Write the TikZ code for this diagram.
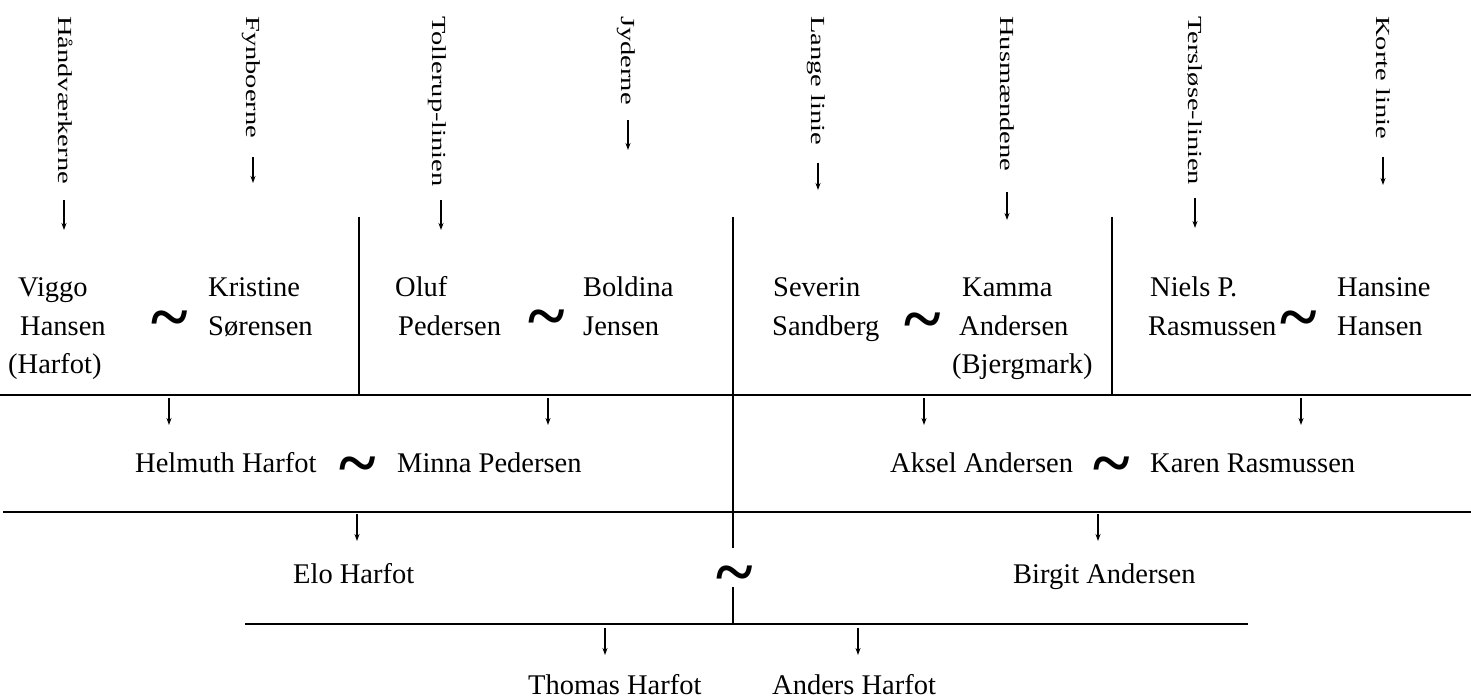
\documentclass[tikz,border=0pt]{standalone}
\usepackage{fontspec}
\usepackage{graphicx}
\setmainfont{Liberation Serif}
\usetikzlibrary{arrows.meta}
\newcommand\vtxt[1]{\scalebox{1}[0.7]{#1}}
\begin{document}
\begin{tikzpicture}[x=1pt,y=-1pt,
  nm/.style={anchor=base west, inner sep=0pt, font=\fontsize{28.5}{34}\selectfont},
  vlab/.style={anchor=base west, rotate=-90, inner sep=0pt, font=\fontsize{28.5}{34}\selectfont},
  tl/.style={anchor=base, inner sep=0pt, font=\fontsize{70}{70}\selectfont\bfseries},
  ln/.style={line width=1.7pt},
  arr/.style={line width=1.2pt, -{Stealth[length=7pt,width=5pt]}}]
\useasboundingbox (0,0) rectangle (1471,700);

% vertical family-line labels
\node[vlab] (l1) at (58,16) {\vtxt{Håndværkerne}};
\node[vlab] (l2) at (246,16) {\vtxt{Fynboerne}};
\node[vlab] (l3) at (432,16) {\vtxt{Tollerup-linien}};
\node[vlab] (l4) at (621,16) {\vtxt{Jyderne}};
\node[vlab] (l5) at (811,16) {\vtxt{Lange linie}};
\node[vlab] (l6) at (1000,16) {\vtxt{Husmændene}};
\node[vlab] (l7) at (1188,16) {\vtxt{Tersløse-linien}};
\node[vlab] (l8) at (1376,16) {\vtxt{Korte linie}};
\coordinate (a1s) at (64,200);  \coordinate (a1e) at (64,230);
\coordinate (a2s) at (253,157); \coordinate (a2e) at (253,183);
\coordinate (a3s) at (441,200); \coordinate (a3e) at (441,230);
\coordinate (a4s) at (628,120); \coordinate (a4e) at (628,150);
\coordinate (a5s) at (818,163); \coordinate (a5e) at (818,190);
\coordinate (a6s) at (1007,192); \coordinate (a6e) at (1007,220);
\coordinate (a7s) at (1195,198); \coordinate (a7e) at (1195,228);
\coordinate (a8s) at (1383,157); \coordinate (a8e) at (1383,185);
\foreach \i in {1,...,8} {\draw[arr] (a\i s) -- (a\i e);}

% generation 1
\node[nm] (viggo1) at (18,297) {Viggo};
\node[nm] (viggo2) at (20,335) {Hansen};
\node[nm] (viggo3) at (8,373) {(Harfot)};
\node[tl] (t1) at (170,340) {\textasciitilde};
\node[nm] (krist1) at (208,297) {Kristine};
\node[nm] (krist2) at (208,335) {Sørensen};

\node[nm] (oluf1) at (395,297) {Oluf};
\node[nm] (oluf2) at (398,335) {Pedersen};
\node[tl] (t2) at (547,339) {\textasciitilde};
\node[nm] (bold1) at (583,297) {Boldina};
\node[nm] (bold2) at (583,335) {Jensen};

\node[nm] (sev1) at (773,297) {Severin};
\node[nm] (sev2) at (772,335) {Sandberg};
\node[tl] (t3) at (923,342) {\textasciitilde};
\node[nm] (kam1) at (962,297) {Kamma};
\node[nm] (kam2) at (959,335) {Andersen};
\node[nm] (kam3) at (952,373) {(Bjergmark)};

\node[nm] (niels1) at (1150,297) {Niels P.};
\node[nm] (niels2) at (1148,335) {Rasmussen};
\node[tl] (t4) at (1299,340) {\textasciitilde};
\node[nm] (hans1) at (1337,297) {Hansine};
\node[nm] (hans2) at (1337,335) {Hansen};

% lines
\coordinate (v1t) at (359,217); \coordinate (v1b) at (359,395);
\coordinate (v2t) at (733,217); \coordinate (v2m) at (733,548);
\coordinate (v2n) at (733,587); \coordinate (v2b) at (733,624);
\coordinate (v3t) at (1112,217); \coordinate (v3b) at (1112,395);
\coordinate (h1l) at (0,395); \coordinate (h1r) at (1471,395);
\coordinate (h2l) at (3,512); \coordinate (h2r) at (1471,512);
\coordinate (h3l) at (245,624); \coordinate (h3r) at (1248,624);
\draw[ln] (v1t) -- (v1b);
\draw[ln] (v2t) -- (v2m);
\draw[ln] (v2n) -- (v2b);
\draw[ln] (v3t) -- (v3b);
\draw[ln] (h1l) -- (h1r);
\draw[ln] (h2l) -- (h2r);
\draw[ln] (h3l) -- (h3r);

% generation 2
\draw[arr] (169,398) -- (169,425);
\draw[arr] (548,398) -- (548,425);
\draw[arr] (924,398) -- (924,425);
\draw[arr] (1301,398) -- (1301,425);
\node[nm] (helmuth) at (135,472) {Helmuth Harfot};
\node[tl] (t5) at (358,486) {\textasciitilde};
\node[nm] (minna) at (397,472) {Minna Pedersen};
\node[nm] (aksel) at (890,472) {Aksel Andersen};
\node[tl] (t6) at (1112,486) {\textasciitilde};
\node[nm] (karen) at (1150,472) {Karen Rasmussen};

% generation 3
\draw[arr] (357,514) -- (357,541);
\draw[arr] (1098,514) -- (1098,541);
\node[nm] (elo) at (293,583) {Elo Harfot};
\node[tl] (t7) at (735,595) {\textasciitilde};
\node[nm] (birgit) at (1013,583) {Birgit Andersen};

% generation 4
\draw[arr] (605,628) -- (605,655);
\draw[arr] (858,628) -- (858,655);
\node[nm] (thomas) at (528,694) {Thomas Harfot};
\node[nm] (anders) at (772,694) {Anders Harfot};
\end{tikzpicture}
\end{document}
